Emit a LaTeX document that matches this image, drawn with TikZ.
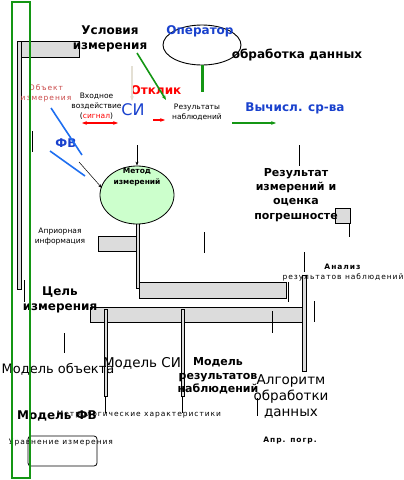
\documentclass[tikz,border=0pt]{standalone}
\usepackage{fontspec}
\setmainfont{DejaVu Sans}
\newfontfamily\spaced[LetterSpace=13]{DejaVu Sans}
\usetikzlibrary{arrows.meta, shapes.geometric}
\definecolor{frame}{RGB}{20,150,20}
\definecolor{barfill}{RGB}{220,220,220}
\definecolor{bluetext}{RGB}{25,65,205}
\definecolor{blueline}{RGB}{30,110,240}
\definecolor{objred}{RGB}{200,70,70}
\definecolor{methfill}{RGB}{204,255,204}
\definecolor{pale}{RGB}{228,224,212}

\begin{document}
\begin{tikzpicture}[x=1pt, y=-1pt,
    bar/.style={draw=black, fill=barfill, line width=0.8pt},
    tick/.style={draw=black, line width=0.8pt},
    ttl/.style={font=\bfseries\fontsize{12}{15}\selectfont, align=center, inner sep=0pt},
    mdl/.style={font=\fontsize{13.5}{16}\selectfont, align=center, inner sep=0pt},
    sml/.style={font=\fontsize{7.5}{10}\selectfont, align=center, inner sep=0pt},
    spc/.style={sml, font=\spaced\fontsize{7.5}{10}\selectfont},
    garr/.style={-{Stealth[length=5pt]}, draw=frame, line width=1.6pt},
    rarr/.style={-{Stealth[length=5pt]}, draw=red, line width=1.6pt},
    fv/.style={draw=blueline, line width=1.6pt}
  ]
  \useasboundingbox (0,0) rectangle (404,480);

  % bars and strips
  \draw[bar] (17,41) rectangle (21,289);
  \draw[bar] (21,41) rectangle (79,57);
  \draw[bar] (98,236) rectangle (136,251);
  \draw[bar] (136,223) rectangle (139,288);
  \draw[bar] (139,282) rectangle (286,298);
  \draw[bar] (90,307) rectangle (303,322);
  \draw[bar] (302,275) rectangle (306,371);
  \draw[bar] (104,309) rectangle (107,396);
  \draw[bar] (181,309) rectangle (184,396);
  \draw[bar] (335,208) rectangle (350,223);
  \draw[tick] (105.5,396) -- (105.5,413);
  \draw[tick] (182.5,396) -- (182.5,413);
  \draw[tick] (349,223) -- (349,237);
  \draw[draw=black, fill=white, rounded corners=3pt, line width=0.8pt] (28,436) rectangle (97,466);

  % ticks
  \foreach \x/\ya/\yb in {32/131/152, 24/280/302, 299/145/166, 204/232/253, 304/252/272,
                          288/282/302, 314/301/322, 272/311/333, 64/333/353, 257/398/416}
    \draw[tick] (\x,\ya) -- (\x,\yb);

  % ellipse and circle
  \node[draw=black, fill=white, ellipse, minimum width=78pt, minimum height=40pt, line width=0.9pt,
        inner sep=0pt] (oper) at (202,45) {};
  \node[draw=black, fill=methfill, ellipse, minimum width=74pt, minimum height=58pt, line width=0.8pt,
        inner sep=0pt] (meth) at (137,195) {};

  % texts
  \node[ttl] (cond) at (110,38.5) {Условия\\измерения};
  \node[ttl, text=bluetext] (opname) at (200,31) {Оператор};
  \node[ttl] (proc) at (297,55) {обработка данных};
  \node[ttl, text=red] (resp) at (156,90) {Отклик};
  \node[font=\fontsize{16}{19}\selectfont, text=bluetext, inner sep=0pt] (si) at (133,110) {СИ};
  \node[ttl, text=bluetext] (comp) at (295,108) {Вычисл. ср-ва};
  \node[sml] (input) at (96.5,106) {Входное\\воздействие\\({\color{red}сигнал})};
  \node[spc, text=objred] (obj) at (46,93.5) {Объект\\измерения};
  \node[sml] (obs) at (197,112) {Результаты\\наблюдений};
  \node[ttl, text=bluetext] (fvname) at (66,143) {ФВ};
  \node[sml, font=\bfseries\fontsize{7.5}{11}\selectfont] (methname) at (137,177.5) {Метод\\измерений};
  \node[sml] (apri) at (60,237) {Априорная\\информация};
  \node[spc] (anal) at (343,272.5) {\textbf{Анализ}\\результатов наблюдений};
  \node[ttl, font=\bfseries\fontsize{11}{14.2}\selectfont] (res) at (296,195)
       {Результат\\измерений и\\оценка\\погрешносте};
  \node[ttl] (goal) at (60,299.5) {Цель\\измерения};
  \node[mdl, font=\fontsize{13}{16}\selectfont] (mobj) at (58,369) {Модель объекта};
  \node[mdl] (msi) at (142,363) {Модель СИ};
  \node[ttl, font=\bfseries\fontsize{11}{13.5}\selectfont] (mobs) at (218,376)
       {Модель\\результатов\\наблюдений};
  \node[mdl] (algo) at (291,397) {Алгоритм\\обработки\\данных};
  \node[spc, font=\spaced\bfseries\fontsize{7.5}{9}\selectfont] (aprerr) at (290,441) {Апр. погр.};
  \node[ttl, font=\bfseries\fontsize{12}{15}\selectfont] (mfv) at (57,416) {Модель ФВ};
  \node[spc] (metr) at (139,415) {Метрологические характеристики};
  \node[spc] (eqn) at (61,443) {Уравнение измерения};

  % arrows
  \coordinate (ga) at (137,53);  \coordinate (gb) at (166,100);
  \coordinate (pa) at (132,66);  \coordinate (pb) at (132,101);
  \coordinate (sa) at (82,123);  \coordinate (sb) at (118,123);
  \coordinate (ra) at (153,120); \coordinate (rb) at (165,120);
  \coordinate (ca) at (232,123); \coordinate (cb) at (276,123);
  \coordinate (ma) at (137,145);
  \coordinate (ka) at (79,162);  \coordinate (kb) at (102,188);
  \draw[garr] (ga) -- (gb);
  \draw[-{Stealth[length=5pt]}, draw=pale, line width=1.6pt] (pa) -- (pb);
  \draw[rarr, {Stealth[length=5pt]}-{Stealth[length=5pt]}] (sa) -- (sb);
  \draw[rarr] (ra) -- (rb);
  \draw[garr] (ca) -- (cb);
  \draw[-{Stealth[length=4pt]}, line width=0.8pt] (ma) -- (meth.north);
  \draw[-{Stealth[length=4pt]}, line width=0.5pt] (ka) -- (kb);
  \draw[draw=frame, line width=3pt] (oper.south) -- ++(0,27);
  \draw[fv] (51,108) -- (82,155);
  \draw[fv] (50,151) -- (85,176);

  % frame
  \draw[draw=frame, line width=2pt] (12,2) rectangle (30,478);
\end{tikzpicture}
\end{document}
